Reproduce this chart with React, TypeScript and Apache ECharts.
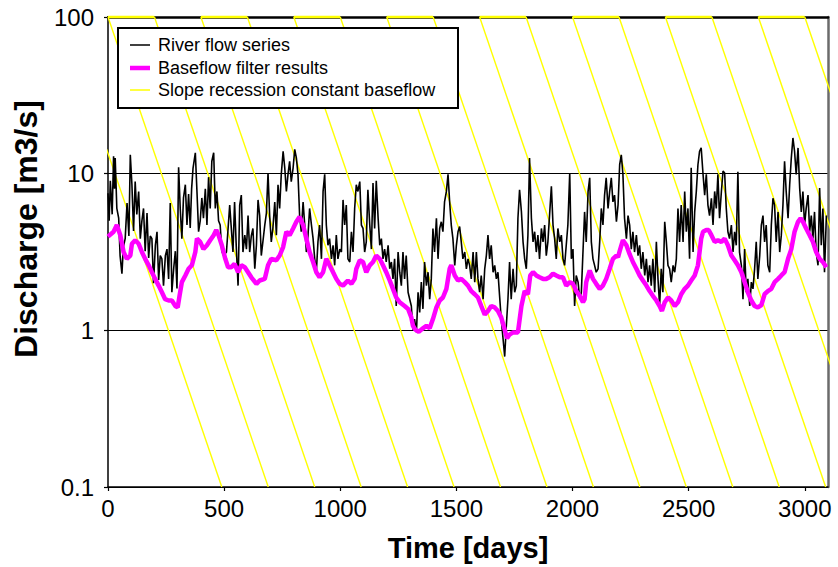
import React, { useEffect, useRef } from "react";
import * as echarts from "echarts";

const seriesNames = ["River flow series", "Baseflow filter results", "Slope recession constant baseflow"];
const xTicks = [0, 500, 1000, 1500, 2000, 2500, 3000];
const yTicks = [0.1, 1, 10, 100];
const xTitle = "Time [days]";
const yTitle = "Discharge [m3/s]";

// [day, discharge m3/s]
const riverFlow: [number, number][] = [
  [0,7.5],[5,5.0],[10,9.0],[18,5.5],[24,12.9],[28,8.0],[31,12.6],[38,6.0],[46,5.2],[52,3.0],[60,2.3],[66,3.4],[74,3.85],[82,6.5],[90,4.0],[96,13.2],[103,8.5],[110,4.3],[117,8.9],[124,5.5],[132,7.7],[139,3.85],[146,5.0],[153,6.0],[160,3.2],[168,5.6],[175,2.9],[182,4.0],[189,3.85],[196,2.0],[204,3.5],[211,4.26],[218,2.1],[225,3.0],[232,2.86],[239,1.93],[247,3.0],[254,3.3],[261,2.13],[268,6.5],[275,1.75],[283,2.5],[290,3.2],[297,1.85],[304,11.0],[311,6.0],[318,3.85],[325,7.0],[333,8.5],[340,4.7],[347,7.4],[354,4.5],[360,8.0],[366,10.8],[376,13.6],[383,7.7],[390,4.26],[397,5.0],[404,7.0],[411,5.2],[419,8.0],[426,4.7],[433,9.5],[440,6.0],[447,12.0],[455,13.6],[462,6.0],[469,7.7],[476,5.0],[483,4.7],[490,3.2],[498,3.0],
  [510,3.16],[524,6.3],[538,3.16],[545,6.6],[552,3.5],[560,1.93],[567,6.3],[574,7.3],[581,3.16],[589,4.05],[596,3.3],[603,5.4],[610,3.16],[617,4.0],[624,4.47],[632,2.47],[639,3.49],[646,6.8],[653,5.4],[660,3.0],[668,3.8],[675,4.7],[682,5.6],[689,10.1],[696,5.4],[703,3.67],[710,4.5],[718,6.6],[725,4.05],[732,8.5],[739,6.0],[746,9.9],[754,13.9],[761,10.9],[768,7.7],[775,9.9],[782,12.0],[789,8.9],[797,10.9],[804,14.3],[811,12.6],[818,9.9],[825,5.4],[832,4.26],[840,6.6],[847,4.7],[854,3.16],[861,4.0],[868,6.0],[876,4.7],[883,3.85],[890,2.86],[897,2.35],[904,3.67],[911,4.7],[919,2.86],[926,7.7],[933,9.9],[940,4.7],[947,3.49],[954,3.85],[962,2.86],[969,3.49],[976,2.6],[983,4.05],[990,2.86],[998,3.3],[1005,3.16],[1012,6.8],
  [1019,4.7],[1026,6.3],[1033,2.86],[1041,2.73],[1048,4.26],[1055,3.16],[1062,6.0],[1069,8.5],[1076,7.7],[1084,8.9],[1091,4.7],[1098,4.47],[1105,3.16],[1112,3.67],[1119,7.9],[1127,4.7],[1134,3.3],[1141,8.7],[1148,4.47],[1155,9.0],[1163,5.19],[1170,3.49],[1177,3.85],[1184,2.86],[1191,3.3],[1198,2.73],[1206,3.49],[1213,2.47],[1220,2.73],[1227,2.13],[1234,2.86],[1241,1.43],[1249,3.16],[1256,2.35],[1263,1.93],[1270,3.16],[1277,2.13],[1284,3.0],[1292,1.75],[1299,1.58],[1306,1.43],[1313,1.01],[1320,1.18],[1328,0.97],[1335,1.75],[1342,1.3],[1349,2.03],[1356,1.37],[1363,2.73],[1371,1.93],[1378,2.35],[1385,1.58],[1392,2.13],[1399,4.47],[1406,3.16],[1414,5.19],[1421,2.86],[1428,4.47],[1435,4.93],[1442,4.26],[1449,6.6],[1457,7.7],[1464,9.9],[1471,6.6],[1478,4.7],[1485,3.85],[1493,2.6],[1500,3.49],[1507,4.26],[1514,4.6],[1521,3.67],[1528,2.86],[1536,3.16],[1543,2.47],[1550,2.86],
  [1557,2.6],[1564,2.13],[1572,3.16],[1579,2.03],[1586,3.16],[1593,2.13],[1600,1.75],[1607,2.24],[1615,1.58],[1622,2.47],[1629,3.0],[1636,4.05],[1643,2.86],[1650,3.49],[1658,2.35],[1665,2.6],[1672,2.13],[1679,2.35],[1686,1.66],[1693,1.18],[1701,0.88],[1708,0.68],[1715,1.07],[1722,1.58],[1729,2.73],[1736,1.58],[1744,2.47],[1751,1.75],[1758,1.93],[1765,5.19],[1772,7.9],[1780,5.7],[1787,3.67],[1794,2.86],[1801,2.47],[1808,4.05],[1815,12.6],[1823,5.19],[1830,3.67],[1837,4.26],[1844,3.16],[1851,4.05],[1858,2.86],[1866,4.47],[1873,3.67],[1880,4.7],[1887,3.0],[1894,3.67],[1901,5.4],[1909,8.3],[1916,4.7],[1923,3.85],[1930,2.86],[1937,4.47],[1945,3.67],[1952,4.05],[1959,2.86],[1966,2.6],[1973,3.49],[1980,4.7],[1988,10.1],[1995,2.86],[2002,3.3],[2009,1.43],[2016,2.24],[2024,2.03],[2031,1.58],[2038,1.75],[2045,3.16],[2052,5.7],[2059,3.67],[2067,7.7],
  [2074,9.4],[2081,3.67],[2088,2.86],[2095,2.6],[2102,2.35],[2110,2.47],[2117,3.67],[2124,6.0],[2131,4.7],[2138,7.3],[2145,9.4],[2153,6.0],[2160,7.7],[2167,9.4],[2174,6.6],[2181,7.3],[2189,4.93],[2196,6.3],[2203,11.4],[2210,13.2],[2217,9.9],[2224,5.19],[2232,3.85],[2239,5.4],[2246,4.7],[2253,3.3],[2260,4.26],[2267,3.16],[2275,4.05],[2282,3.0],[2289,3.49],[2296,2.47],[2303,3.16],[2311,2.24],[2318,2.86],[2325,2.03],[2332,2.6],[2339,1.93],[2346,2.86],[2354,1.75],[2361,3.67],[2368,2.13],[2375,1.43],[2382,2.47],[2389,1.75],[2397,4.93],[2404,3.67],[2411,2.6],[2418,2.47],[2425,2.03],[2433,2.6],[2440,2.35],[2447,2.86],[2454,6.0],[2461,3.67],[2468,6.3],[2476,3.67],[2483,7.7],[2490,4.26],[2497,6.0],[2504,2.86],[2511,10.9],[2519,3.16],[2526,5.7],[2533,7.7],[2540,11.4],[2547,13.9],[2554,14.6],[2562,9.9],[2569,7.3],[2576,9.9],[2583,6.3],
  [2590,5.4],[2598,6.97],[2605,4.7],[2612,7.7],[2619,6.0],[2626,9.9],[2633,5.19],[2641,7.7],[2648,10.4],[2655,10.1],[2662,6.0],[2669,4.26],[2676,3.85],[2684,4.7],[2691,3.16],[2698,4.26],[2705,3.49],[2712,10.3],[2719,3.16],[2727,2.6],[2734,1.58],[2741,3.3],[2748,1.75],[2755,2.13],[2763,1.43],[2770,2.03],[2777,1.84],[2784,2.47],[2791,3.67],[2798,2.13],[2806,3.0],[2813,4.7],[2820,5.4],[2827,3.67],[2834,4.7],[2841,2.6],[2849,2.35],[2856,4.7],[2863,6.97],[2870,6.3],[2877,3.67],[2885,5.7],[2892,3.16],[2899,4.05],[2906,6.3],[2913,12.0],[2920,7.7],[2928,5.19],[2935,8.5],[2942,12.6],[2949,16.9],[2956,13.9],[2963,9.9],[2971,14.6],[2978,8.1],[2985,5.7],[2992,7.7],[2999,4.7],[3006,6.0],[3014,7.3],[3021,4.26],[3028,5.4],[3035,3.85],[3042,5.7],[3049,3.16],[3057,2.6],[3064,8.1],[3071,3.49],[3078,6.0],[3085,2.35],[3093,5.4]
];

const baseflow: [number, number][] = [
  [0,3.96],[24,4.26],[38,4.7],[53,4.05],[67,3.16],[81,2.86],[96,3.0],[103,3.57],[117,3.76],[132,3.57],[146,3.16],[160,2.86],[175,2.6],[189,2.35],[203,2.13],[218,1.93],[232,1.75],[246,1.58],[261,1.55],[275,1.55],[290,1.43],[300,1.4],[308,1.66],[318,2.03],[333,2.24],[347,2.47],[361,2.6],[376,3.16],[383,3.85],[397,3.67],[411,3.3],[426,3.49],[440,3.76],[455,4.05],[466,4.37],[476,4.05],[490,3.49],[505,2.86],[517,2.53],[531,2.53],[545,2.66],[560,2.35],[574,2.6],[589,2.53],[603,2.35],[617,2.18],[639,1.98],[653,2.08],[675,2.13],[689,2.6],[703,2.86],[725,2.8],[739,3.0],[754,3.4],[768,4.26],[782,4.05],[797,4.47],[811,4.93],[825,5.3],[840,4.7],[854,3.85],[868,3.16],[883,2.73],[897,2.35],[911,2.18],[926,2.35],[940,2.86],[954,2.6],[969,2.35],[983,2.13],[997,1.98],[1012,1.93],[1026,2.03],[1033,2.08],[1048,1.98],[1062,2.13],[1069,2.47],[1084,2.8],[1098,2.73],[1112,2.35],[1127,2.6],[1141,2.73],[1155,3.0],[1170,2.86],[1184,2.6],[1198,2.35],[1213,2.08],[1227,1.84],[1241,1.62],[1256,1.51],[1277,1.43],[1292,1.37],[1306,1.21],[1313,1.07],[1323,1.01],[1338,0.98],[1356,1.03],[1371,1.07],[1385,1.03],[1399,1.18],[1414,1.4],[1428,1.55],[1442,1.62],[1457,1.84],[1471,2.47],[1478,2.6],[1493,2.24],[1507,2.08],[1521,2.13],[1536,2.03],[1550,1.93],[1564,1.78],[1579,1.7],[1593,1.62],[1607,1.43],[1622,1.26],[1636,1.33],[1650,1.43],[1665,1.4],[1679,1.33],[1693,1.21],[1708,1.01],[1718,0.89],[1729,0.94],[1744,0.97],[1765,0.97],[1780,1.43],[1794,1.78],[1808,1.7],[1818,2.24],[1830,2.35],[1844,2.24],[1858,2.18],[1873,2.13],[1887,2.13],[1901,2.18],[1916,2.3],[1930,2.24],[1945,2.18],[1959,2.18],[1973,1.93],[1988,2.03],[2002,1.98],[2016,1.78],[2031,1.66],[2045,1.51],[2052,1.58],[2059,2.03],[2074,2.41],[2088,2.13],[2102,1.98],[2117,1.84],[2131,1.93],[2145,2.13],[2160,2.47],[2174,2.86],[2189,3.0],[2196,2.93],[2203,3.2],[2217,3.76],[2232,3.49],[2246,3.06],[2260,2.73],[2275,2.47],[2289,2.24],[2303,2.08],[2318,1.93],[2332,1.78],[2346,1.66],[2361,1.55],[2375,1.43],[2385,1.33],[2397,1.51],[2411,1.62],[2425,1.55],[2440,1.43],[2454,1.51],[2468,1.7],[2483,1.84],[2497,1.93],[2511,2.08],[2526,2.24],[2540,2.6],[2547,3.16],[2554,3.85],[2562,4.26],[2576,4.37],[2586,4.37],[2598,4.05],[2612,3.67],[2626,3.76],[2641,3.67],[2655,3.85],[2669,3.49],[2684,3.0],[2698,2.8],[2712,2.6],[2727,2.35],[2741,2.03],[2755,1.75],[2770,1.55],[2784,1.43],[2798,1.4],[2813,1.45],[2827,1.7],[2841,1.78],[2856,1.84],[2870,2.03],[2885,2.13],[2899,2.24],[2913,2.35],[2928,2.86],[2942,3.3],[2956,4.26],[2971,4.93],[2982,5.19],[2992,4.93],[3006,4.47],[3021,4.05],[3035,3.67],[3049,3.16],[3064,2.86],[3078,2.73],[3093,2.53]
];

// Slope recession lines: each starts at Q = 100 and reaches Q = 0.1
const recessionTopQ = 100;
const recessionBottomQ = 0.1;
const recessionStartDay = [-200, 0, 200, 400, 600, 800, 1000, 1200, 1400, 1600, 1800, 2000, 2200, 2400, 2600, 2800, 3000];
const recessionEndDay = [490, 690, 890, 1090, 1290, 1490, 1690, 1890, 2090, 2290, 2490, 2690, 2890, 3090, 3290, 3490, 3690];
// segments of the recession series lying on the upper limit (Q = 100)
const topSegmentStart = [0, 400, 800, 1200, 1600, 2000, 2400, 2800];
const topSegmentEnd = [200, 600, 1000, 1400, 1800, 2200, 2600, 3000];

const FONT = "'Liberation Sans', Arial, Helvetica, sans-serif";

export default function App() {
  const ref = useRef<HTMLDivElement>(null);
  useEffect(() => {
    if (!ref.current) return;
    const chart = echarts.init(ref.current, null, { renderer: "svg" });
    const yellow = "#ffff00";
    const series: any[] = [];
    recessionStartDay.forEach((s, i) => {
      series.push({
        type: "line",
        name: seriesNames[2],
        data: [[s, recessionTopQ], [recessionEndDay[i], recessionBottomQ]],
        symbol: "none",
        silent: true,
        z: 1,
        color: yellow,
        lineStyle: { color: yellow, width: 1.4 },
      });
    });
    topSegmentStart.forEach((s, i) => {
      series.push({
        type: "line",
        name: seriesNames[2],
        data: [[s, recessionTopQ], [topSegmentEnd[i], recessionTopQ]],
        symbol: "none",
        silent: true,
        clip: false,
        z: 5,
        color: yellow,
        lineStyle: { color: yellow, width: 2.5 },
      });
    });
    series.push({
      type: "line",
      name: seriesNames[0],
      data: riverFlow,
      symbol: "none",
      z: 3,
      color: "#000",
      lineStyle: { color: "#000", width: 1.6 },
    });
    series.push({
      type: "line",
      name: seriesNames[1],
      data: baseflow,
      symbol: "none",
      z: 4,
      color: "#ff00ff",
      lineStyle: { color: "#ff00ff", width: 4.5 },
    });

    const lgX = 118, lgY = 28, lgW = 340, lgH = 80;
    const rows = [45, 68, 90];
    const lgColors = ["#000", "#ff00ff", yellow];
    const lgWidths = [1.5, 4.5, 1.5];
    const graphics: any[] = [
      {
        type: "rect",
        z: 100,
        shape: { x: lgX, y: lgY, width: lgW, height: lgH },
        style: { fill: "#fff", stroke: "#000", lineWidth: 2 },
      },
    ];
    seriesNames.forEach((n, i) => {
      graphics.push({
        type: "line",
        z: 101,
        shape: { x1: 130, y1: rows[i], x2: 150, y2: rows[i] },
        style: { stroke: lgColors[i], lineWidth: lgWidths[i] },
      });
      graphics.push({
        type: "text",
        z: 101,
        x: 158,
        y: rows[i],
        style: {
          text: n,
          fill: "#000",
          font: `18px ${FONT}`,
          fontSize: 18,
          fontFamily: FONT,
          textAlign: "left",
          textVerticalAlign: "middle",
          align: "left",
          verticalAlign: "middle",
        },
      });
    });
    graphics.push({
      type: "text",
      z: 101,
      x: 26,
      y: 229,
      rotation: Math.PI / 2,
      style: {
        text: yTitle,
        fill: "#000",
        font: `bold 32px ${FONT}`,
        fontSize: 32,
        fontWeight: "bold",
        fontFamily: FONT,
        textAlign: "center",
        textVerticalAlign: "middle",
        align: "center",
        verticalAlign: "middle",
      },
    });

    chart.setOption({
      animation: false,
      backgroundColor: "#fff",
      textStyle: { fontFamily: FONT },
      grid: { left: 108, right: 10, top: 17, bottom: 80, containLabel: false },
      xAxis: [
        {
          type: "value",
          min: xTicks[0],
          max: 3100,
          interval: xTicks[1] - xTicks[0],
          name: xTitle,
          nameLocation: "middle",
          nameGap: 46,
          nameTextStyle: { fontSize: 29, fontWeight: "bold", color: "#000", fontFamily: FONT },
          axisLine: { show: true, onZero: false, lineStyle: { color: "#000", width: 1.5 } },
          axisTick: { show: true, inside: false, length: 4, lineStyle: { color: "#000", width: 1.2 } },
          axisLabel: { fontSize: 24, color: "#000", margin: 9, showMaxLabel: false, fontFamily: FONT,
            formatter: (v: number) => (xTicks.includes(v) ? String(v) : "") },
          splitLine: { show: false },
        },
        {
          type: "value",
          position: "top",
          min: 0,
          max: 3100,
          axisLine: { show: true, onZero: false, lineStyle: { color: "#000", width: 2.5 } },
          axisTick: { show: false },
          axisLabel: { show: false },
          splitLine: { show: false },
        },
      ],
      yAxis: [
        {
          type: "log",
          logBase: 10,
          min: yTicks[0],
          max: yTicks[yTicks.length - 1],
          axisLine: { show: true, onZero: false, lineStyle: { color: "#000", width: 1.5 } },
          axisTick: { show: true, inside: false, length: 4, lineStyle: { color: "#000", width: 1.2 } },
          axisLabel: { fontSize: 24, color: "#000", margin: 14, fontFamily: FONT,
            formatter: (v: number) => {
              const t = yTicks.find((k) => Math.abs(k - v) / k < 1e-6);
              return t === undefined ? "" : String(t);
            } },
          splitLine: { show: true, lineStyle: { color: "#000", width: 1 } },
        },
        {
          type: "log",
          logBase: 10,
          position: "right",
          min: yTicks[0],
          max: yTicks[yTicks.length - 1],
          axisLine: { show: true, onZero: false, lineStyle: { color: "#6b6b6b", width: 2.5 } },
          axisTick: { show: false },
          axisLabel: { show: false },
          splitLine: { show: false },
        },
      ],
      graphic: graphics,
      series,
    });
    return () => chart.dispose();
  }, []);
  return (
    <div
      ref={ref}
      style={{ position: "fixed", left: 0, top: 0, width: 838, height: 567, background: "#fff" }}
    />
  );
}
